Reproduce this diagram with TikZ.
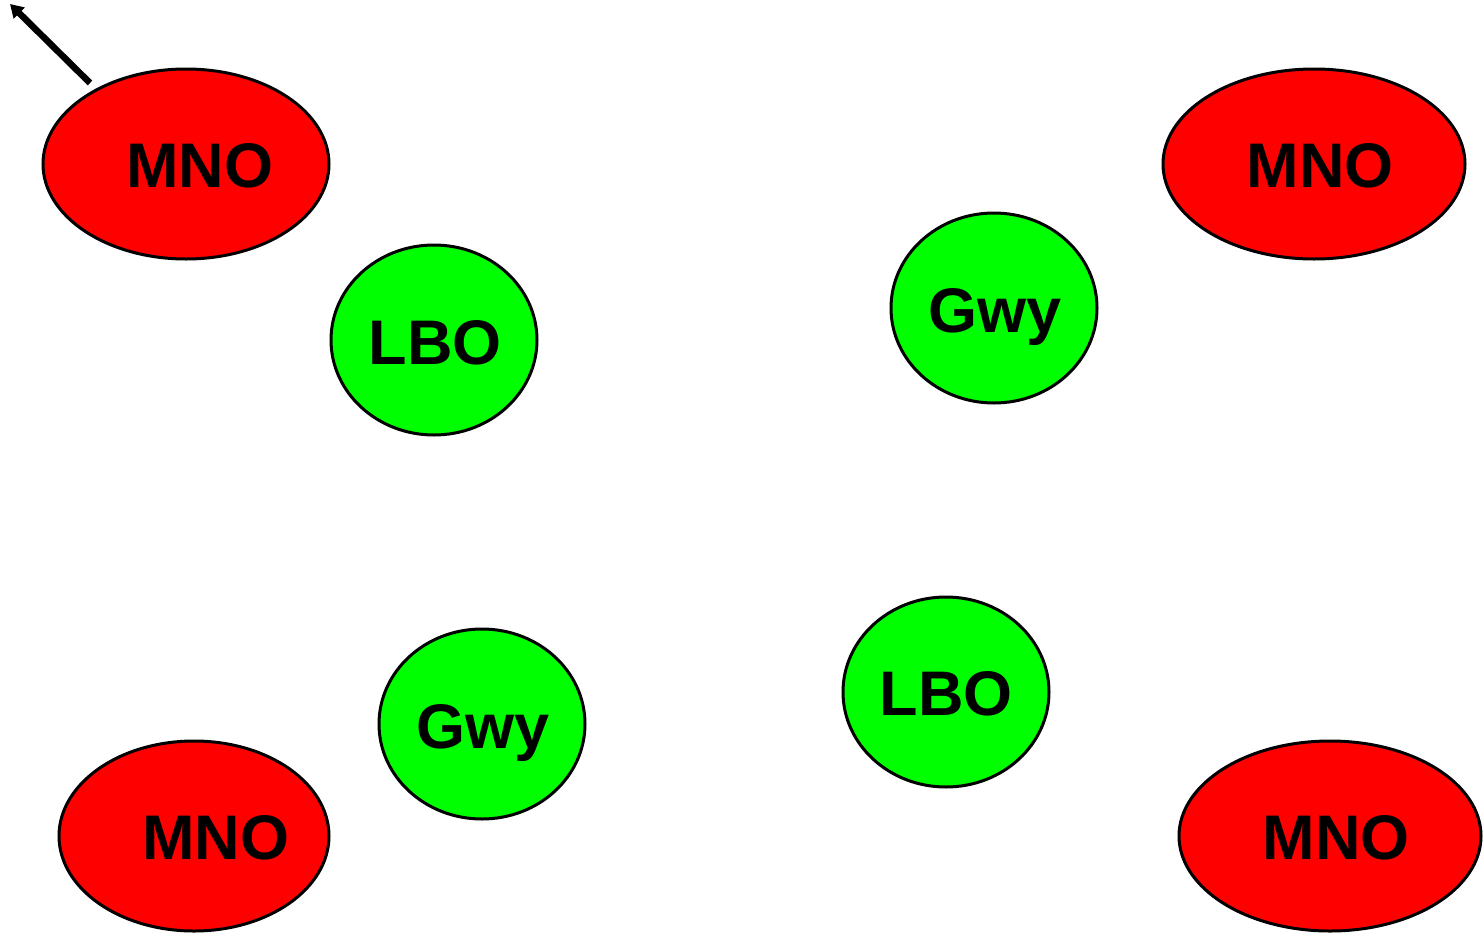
\documentclass[tikz,border=0pt]{standalone}
\usepackage{fontspec}
\setmainfont{Liberation Sans}
\usetikzlibrary{shapes.geometric,arrows.meta}
\begin{document}
\begin{tikzpicture}[x=1pt,y=-1pt,
  mno/.style={ellipse,draw=black,line width=3pt,fill=red,inner sep=0pt},
  gbox/.style={ellipse,draw=black,line width=3pt,fill={rgb,255:red,0;green,255;blue,0},inner sep=0pt,minimum width=206pt,minimum height=190pt},
  lbl/.style={anchor=base,inner sep=0pt,font=\fontsize{63}{63}\selectfont\bfseries},
  arr/.style={line width=6.5pt,-{Triangle[length=13pt,width=15pt]}}]
\useasboundingbox (0,0) rectangle (1484,935);
% MNO ellipses
\node[mno,minimum width=286pt,minimum height=190pt] (m1) at (186,164) {};
\node[mno,minimum width=302pt,minimum height=190pt] (m2) at (1314,164) {};
\node[mno,minimum width=270pt,minimum height=190pt] (m3) at (194,836) {};
\node[mno,minimum width=302pt,minimum height=190pt] (m4) at (1330,836) {};
% green circles
\node[gbox] (l1) at (434,340) {};
\node[gbox] (g1) at (994,308) {};
\node[gbox] (g2) at (482,724) {};
\node[gbox] (l2) at (946,692) {};
% labels
\node[lbl] (t1) at (200,187) {MNO};
\node[lbl] (t2) at (1320,187) {MNO};
\node[lbl] (t3) at (216,859) {MNO};
\node[lbl] (t4) at (1336,859) {MNO};
\node[lbl] (t5) at (435,364) {LBO};
\node[lbl] (t6) at (995,332) {Gwy};
\node[lbl] (t7) at (483,748) {Gwy};
\node[lbl] (t8) at (946,715) {LBO};
% arrow
\coordinate (a0) at (90,83);
\coordinate (a1) at (10,4);
\draw[arr] (a0) -- (a1);
\end{tikzpicture}
\end{document}
